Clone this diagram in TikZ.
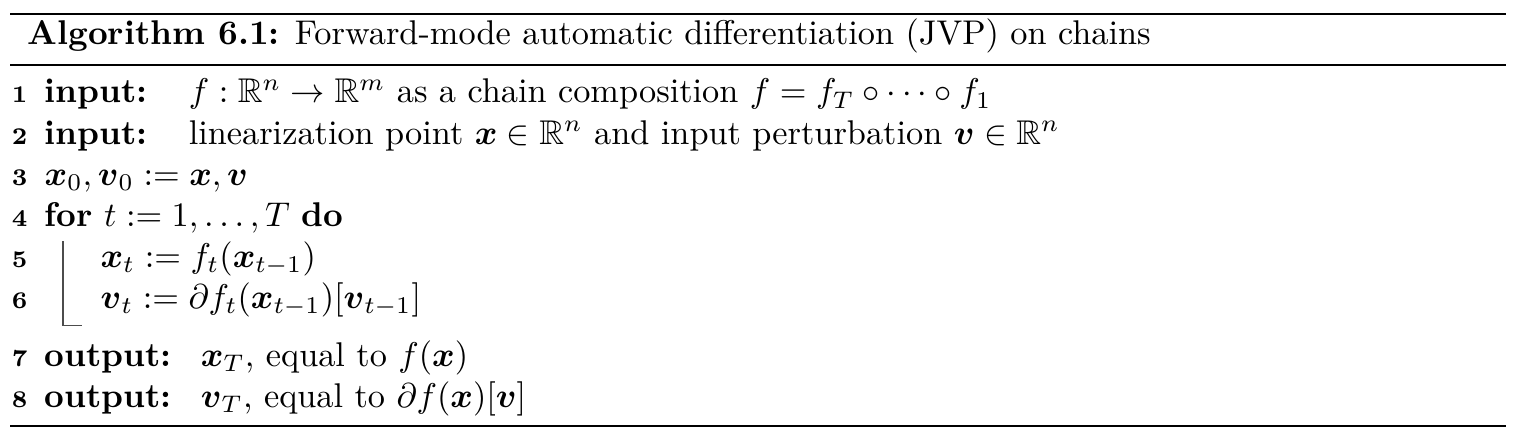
\documentclass[tikz,border=0pt]{standalone}
\usepackage{amsmath,amssymb}
\usetikzlibrary{matrix}
\newcommand{\kwbox}[2]{\makebox[#1][l]{\textbf{#2}}}
\newcommand{\bx}{\boldsymbol{x}}
\newcommand{\bv}{\boldsymbol{v}}

\begin{document}
\begin{tikzpicture}[x=0.2915pt,y=-0.2915pt,
  rule/.style={line width=0.8pt},
  loopbar/.style={line width=0.4pt,black!70}]
\useasboundingbox (0,0) rectangle (1516,444);
\coordinate (rtl) at (10,14);   \coordinate (rtr) at (1506,14);
\coordinate (rml) at (10,65);   \coordinate (rmr) at (1506,65);
\coordinate (rbl) at (10,426);  \coordinate (rbr) at (1506,426);
\draw[rule] (rtl) -- (rtr);
\draw[rule] (rml) -- (rmr);
\draw[rule] (rbl) -- (rbr);
\node[anchor=base west,inner sep=0pt] (title) at (27,45)
  {\textbf{Algorithm 6.1:} Forward-mode automatic differentiation (JVP) on chains};
  \matrix (m) [matrix of nodes, matrix anchor=m-1-2.base west, column sep=5pt,
    nodes={inner sep=0pt, text height=8.5pt, text depth=3.5pt},
    column 1/.style={nodes={anchor=base east, font=\scriptsize\bfseries}},
    column 2/.style={nodes={anchor=base west}}] at (44,103)
  {
1 & \kwbox{42pt}{input:}$f:\mathbb{R}^n\to\mathbb{R}^m$ as a chain composition $f=f_T\circ\cdots\circ f_1$ \\
2 & \kwbox{42pt}{input:}linearization point $\bx\in\mathbb{R}^n$ and input perturbation $\bv\in\mathbb{R}^n$ \\
3 & $\bx_0,\bv_0:=\bx,\bv$ \\
4 & \textbf{for} $t:=1,\dots,T$ \textbf{do} \\
5 & |[xshift=16.3pt]| $\bx_t:=f_t(\bx_{t-1})$ \\
6 & |[xshift=16.3pt]| $\bv_t:=\partial f_t(\bx_{t-1})[\bv_{t-1}]$ \\[4.7pt]
7 & \kwbox{45.5pt}{output:}$\bx_T$, equal to $f(\bx)$ \\
8 & \kwbox{45.5pt}{output:}$\bv_T$, equal to $\partial f(\bx)[\bv]$ \\
  };
\coordinate (lb) at ([xshift=5.5pt,yshift=-0.6pt]m-4-2.south west);
\coordinate (le) at ([yshift=-1.2pt]m-6-2.south);
\draw[loopbar] (lb) -- (lb |- le) -- ++(5.5pt,0);
\end{tikzpicture}
\end{document}
